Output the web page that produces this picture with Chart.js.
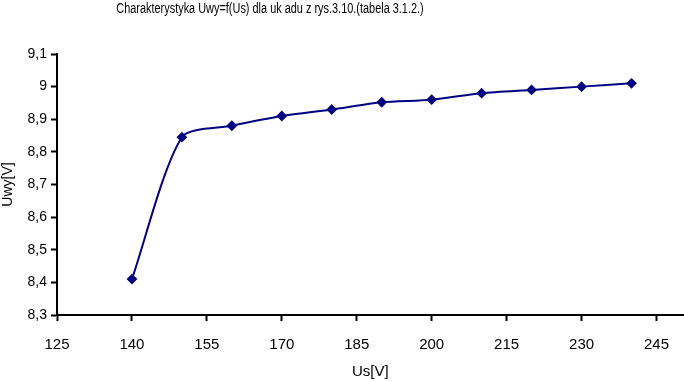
<!DOCTYPE html>
<html>
<head>
<meta charset="utf-8">
<script src="https://cdn.jsdelivr.net/npm/chart.js@4/dist/chart.umd.min.js"></script>
<style>
html,body{margin:0;padding:0;background:#fff;}
#wrap{width:684px;height:381px;position:relative;}
</style>
</head>
<body>
<div id="wrap"><canvas id="c" width="684" height="381"></canvas></div>
<script>
const usValues = [140, 150, 160, 170, 180, 190, 200, 210, 220, 230, 240];
const uwyValues = [8.41, 8.845, 8.88, 8.91, 8.93, 8.952, 8.96, 8.98, 8.99, 9.0, 9.01];
const xTicks = [125, 140, 155, 170, 185, 200, 215, 230, 245];
const titleText = 'Charakterystyka Uwy=f(Us) dla uk adu z rys.3.10.(tabela 3.1.2.)';
const xTitle = 'Us[V]';
const yTitle = 'Uwy[V]';

const FONT = 'Liberation Sans, Arial, sans-serif';

const condensedTitle = {
  id: 'condensedTitle',
  afterDraw(chart) {
    const ctx = chart.ctx;
    ctx.save();
    ctx.font = '14px ' + FONT;
    ctx.fillStyle = '#000';
    ctx.textAlign = 'center';
    ctx.textBaseline = 'middle';
    ctx.translate(270, 9);
    ctx.scale(0.78, 1);
    ctx.fillText(titleText, 0, 0);
    ctx.restore();
  }
};

new Chart(document.getElementById('c'), {
  type: 'line',
  data: {
    datasets: [{
      data: usValues.map((x, i) => ({x: x, y: uwyValues[i]})),
      borderColor: '#000080',
      backgroundColor: '#000080',
      borderWidth: 2,
      pointStyle: 'rectRot',
      pointRadius: 4,
      pointHoverRadius: 4,
      tension: 0.25,
      fill: false
    }]
  },
  plugins: [condensedTitle],
  options: {
    responsive: false,
    animation: false,
    layout: {autoPadding: false, padding: {left: 0, right: 0, top: 54, bottom: 0}},
    plugins: {
      legend: {display: false},
      tooltip: {enabled: false},
      title: {display: false}
    },
    scales: {
      x: {
        type: 'linear',
        min: 125,
        max: 250.4,
        afterBuildTicks: s => { s.ticks = xTicks.map(v => ({value: v})); },
        afterFit: s => { s.height = 66; },
        border: {display: true, color: '#000', width: 2},
        grid: {drawOnChartArea: false, drawTicks: true, tickLength: 6, tickWidth: 2, tickColor: '#000'},
        ticks: {color: '#000', font: {family: FONT, size: 15}, padding: 15, maxRotation: 0, autoSkip: false},
        title: {display: true, text: xTitle, color: '#000', font: {family: FONT, size: 15}, padding: {top: 4, bottom: 0}}
      },
      y: {
        min: 8.3,
        max: 9.1,
        afterBuildTicks: s => { const t=[]; for (let i=0;i<=8;i++) t.push({value: +(8.3 + i*0.1).toFixed(1)}); s.ticks = t; },
        afterFit: s => { s.width = 57; },
        border: {display: true, color: '#000', width: 2},
        grid: {drawOnChartArea: false, drawTicks: true, tickLength: 6, tickWidth: 2, tickColor: '#000'},
        ticks: {
          color: '#000', font: {family: FONT, size: 14}, padding: 4,
          callback: v => String(Number(v.toFixed(1))).replace('.', ',')
        },
        title: {display: true, text: yTitle, color: '#000', font: {family: FONT, size: 14}, padding: {top: 0, bottom: 0}}
      }
    }
  }
});
</script>
</body>
</html>
